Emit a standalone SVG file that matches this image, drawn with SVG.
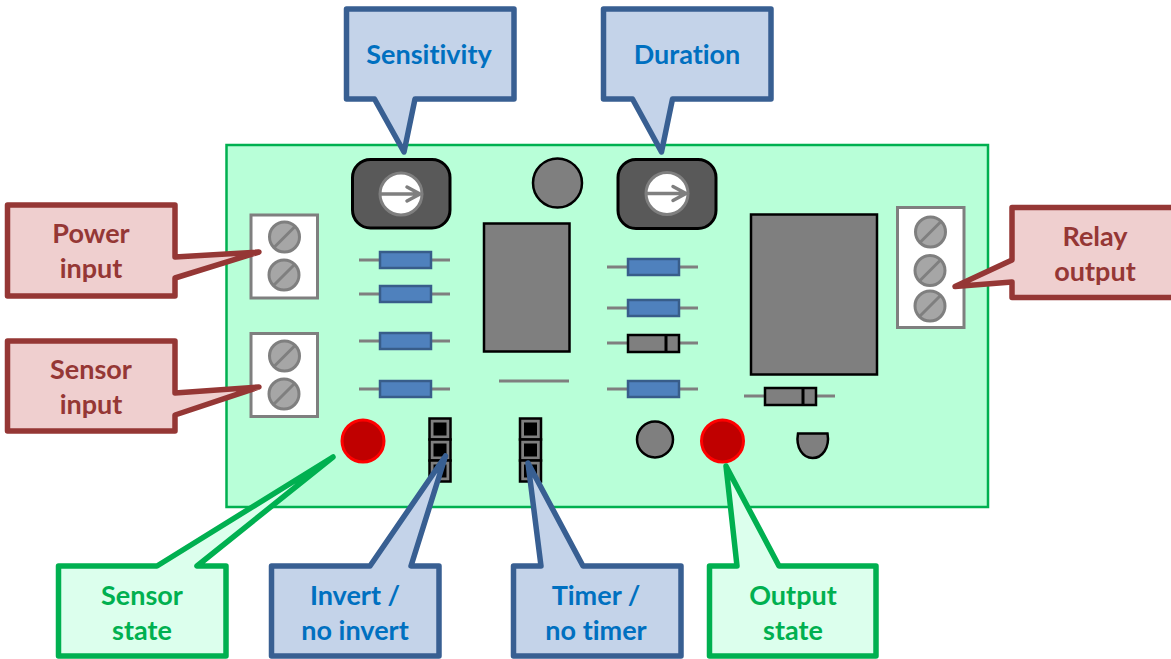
<svg xmlns="http://www.w3.org/2000/svg" width="1171" height="659" viewBox="0 0 1171 659">
<style>
text{font-family:Lato,"Open Sans","Liberation Sans",sans-serif;font-weight:700;font-size:27px;text-anchor:middle;font-variant-ligatures:none}
.co{stroke-width:5.5;stroke-linejoin:round}
.red{fill:#efcfcf;stroke:#953735}.redt{fill:#953735}
.blu{fill:#c4d3e9;stroke:#385f92}.blut{fill:#0070c0}
.grn{fill:#dcffed;stroke:#00b050}.grnt{fill:#00b050}
.term{fill:#fff;stroke:#7f7f7f;stroke-width:3}
.screw{fill:#a6a6a6;stroke:#7f7f7f;stroke-width:3}
.slot{stroke:#7f7f7f;stroke-width:3;fill:none}
.lead{stroke:#7f7f7f;stroke-width:3}
.res{fill:#4f81bd;stroke:#385d8a;stroke-width:2.5}
.blk{fill:#7f7f7f;stroke:#000;stroke-width:2.500}
.led{fill:#c00000;stroke:#f00;stroke-width:3}
.pot{fill:#595959;stroke:#000;stroke-width:3}
.dial{fill:#fff;stroke:#7f7f7f;stroke-width:3}
.arr{stroke:#7f7f7f;stroke-width:3.5;fill:none;stroke-linecap:round}
</style>
<defs>
<g id="screw"><circle r="15" class="screw"/><line x1="-10" y1="10" x2="10" y2="-10" class="slot"/></g>
<g id="resistor"><line x1="-46" x2="45" class="lead"/><rect x="-25" y="-8" width="51" height="16" class="res"/></g>
<g id="diode"><line x1="-46" x2="45" class="lead"/><rect x="-25" y="-8" width="51" height="17" class="blk"/><line x1="13" y1="-8" x2="13" y2="9" stroke="#000" stroke-width="3"/></g>
<g id="dial"><circle r="21" class="dial"/><path class="arr" d="M-20 0H18M6-7L19 0L6 7"/></g>
<g id="jcell"><rect x="-10.500" y="-10" width="21" height="21" fill="#7f7f7f" stroke="#000" stroke-width="2.500"/><rect x="-6.500" y="-6" width="13" height="13" fill="#000"/></g>
</defs>
<rect width="1171" height="659" fill="#fff"/>
<g id="board"><rect x="226.500" y="145" width="761.500" height="362" fill="#b8ffd8" stroke="#00b050" stroke-width="2.500"/></g>
<g id="pot1"><rect x="352.500" y="159.500" width="97.500" height="68.500" rx="18" class="pot"/><use href="#dial" x="401" y="194"/></g>
<g id="pot2"><rect x="618" y="159.500" width="98" height="69" rx="18" class="pot"/><use href="#dial" x="667" y="193.500"/></g>
<g id="cap-top"><circle cx="557.500" cy="183" r="24.500" class="blk"/></g>
<g id="term-power"><rect x="251" y="215" width="66.500" height="83" class="term"/><use href="#screw" x="284.500" y="237"/><use href="#screw" x="284" y="275"/></g>
<g id="term-sensor"><rect x="251" y="333.500" width="66.500" height="83" class="term"/><use href="#screw" x="284.500" y="356"/><use href="#screw" x="284" y="394"/></g>
<g id="term-relay"><rect x="897.500" y="207.500" width="66.500" height="120" class="term"/><use href="#screw" x="930.500" y="232"/><use href="#screw" x="930" y="270.500"/><use href="#screw" x="930" y="306"/></g>
<g id="resistors">
<use href="#resistor" x="405" y="260"/><use href="#resistor" x="405" y="294"/><use href="#resistor" x="405" y="341"/><use href="#resistor" x="405" y="389"/>
<use href="#resistor" x="653" y="267"/><use href="#resistor" x="653" y="308"/><use href="#resistor" x="653" y="389"/>
</g>
<g id="diodes"><use href="#diode" x="653" y="343"/><use href="#diode" x="790" y="396"/></g>
<g id="ic"><rect x="484" y="223.500" width="85.500" height="128" class="blk"/></g>
<g id="strip"><line x1="499" y1="381" x2="569" y2="381" class="lead"/></g>
<g id="relay"><rect x="751" y="214.500" width="126" height="160" class="blk"/></g>
<g id="led1"><circle cx="363" cy="441" r="21" class="led"/></g>
<g id="led2"><circle cx="722.500" cy="441" r="21" class="led"/></g>
<g id="cap-bottom"><circle cx="655" cy="439.500" r="18" class="blk"/></g>
<g id="transistor"><path d="M798 433.500H827.500C830 448 822 458 812.500 458S795.500 448 798 433.500Z" class="blk"/></g>
<g id="jumper1"><use href="#jcell" x="440" y="428.500"/><use href="#jcell" x="440" y="449.500"/><use href="#jcell" x="440" y="470.500"/></g>
<g id="jumper2"><use href="#jcell" x="530.500" y="428.500"/><use href="#jcell" x="530.500" y="449.500"/><use href="#jcell" x="530.500" y="470.500"/></g>
<g id="connectors"></g>
<g id="c-sensitivity"><path class="co blu" d="M346.500 9H514V99H415L404 152L374.500 99H346.500Z"/><text x="429" y="64" class="blut">Sensitivity</text></g>
<g id="c-duration"><path class="co blu" d="M603.500 9H771V99H672.500L661.500 152L632.500 99H603.500Z"/><text x="687" y="64" class="blut">Duration</text></g>
<g id="c-power"><path class="co red" d="M7.500 205H175V257L259 252L175 278V296H7.500Z"/><text x="91" y="243" class="redt">Power</text><text x="91" y="278" class="redt">input</text></g>
<g id="c-sensor-in"><path class="co red" d="M7.500 341H175V393L259 387L175 415V431H7.500Z"/><text x="91" y="379" class="redt">Sensor</text><text x="91" y="414" class="redt">input</text></g>
<g id="c-relay"><path class="co red" d="M1012 207.500H1180V297.500H1012V282L955 286.500L1012 260Z"/><text x="1095" y="246" class="redt">Relay</text><text x="1095" y="281" class="redt">output</text></g>
<g id="c-sensor-state"><path class="co grn" d="M58.500 566H157L333 457L197 566H226V656H58.500Z"/><text x="142" y="605" class="grnt">Sensor</text><text x="142" y="640" class="grnt">state</text></g>
<g id="c-invert"><path class="co blu" d="M271.500 566H370L445.500 456L411 566H439V656H271.500Z"/><text x="355" y="605" class="blut">Invert /</text><text x="355" y="640" class="blut">no invert</text></g>
<g id="c-timer"><path class="co blu" d="M513.500 566H541L528 463L583 566H681V656H513.500Z"/><text x="596" y="605" class="blut">Timer /</text><text x="596" y="640" class="blut">no timer</text></g>
<g id="c-output"><path class="co grn" d="M709.500 566H737L726 466L779 566H876V656H709.500Z"/><text x="793" y="605" class="grnt">Output</text><text x="793" y="640" class="grnt">state</text></g>
</svg>
